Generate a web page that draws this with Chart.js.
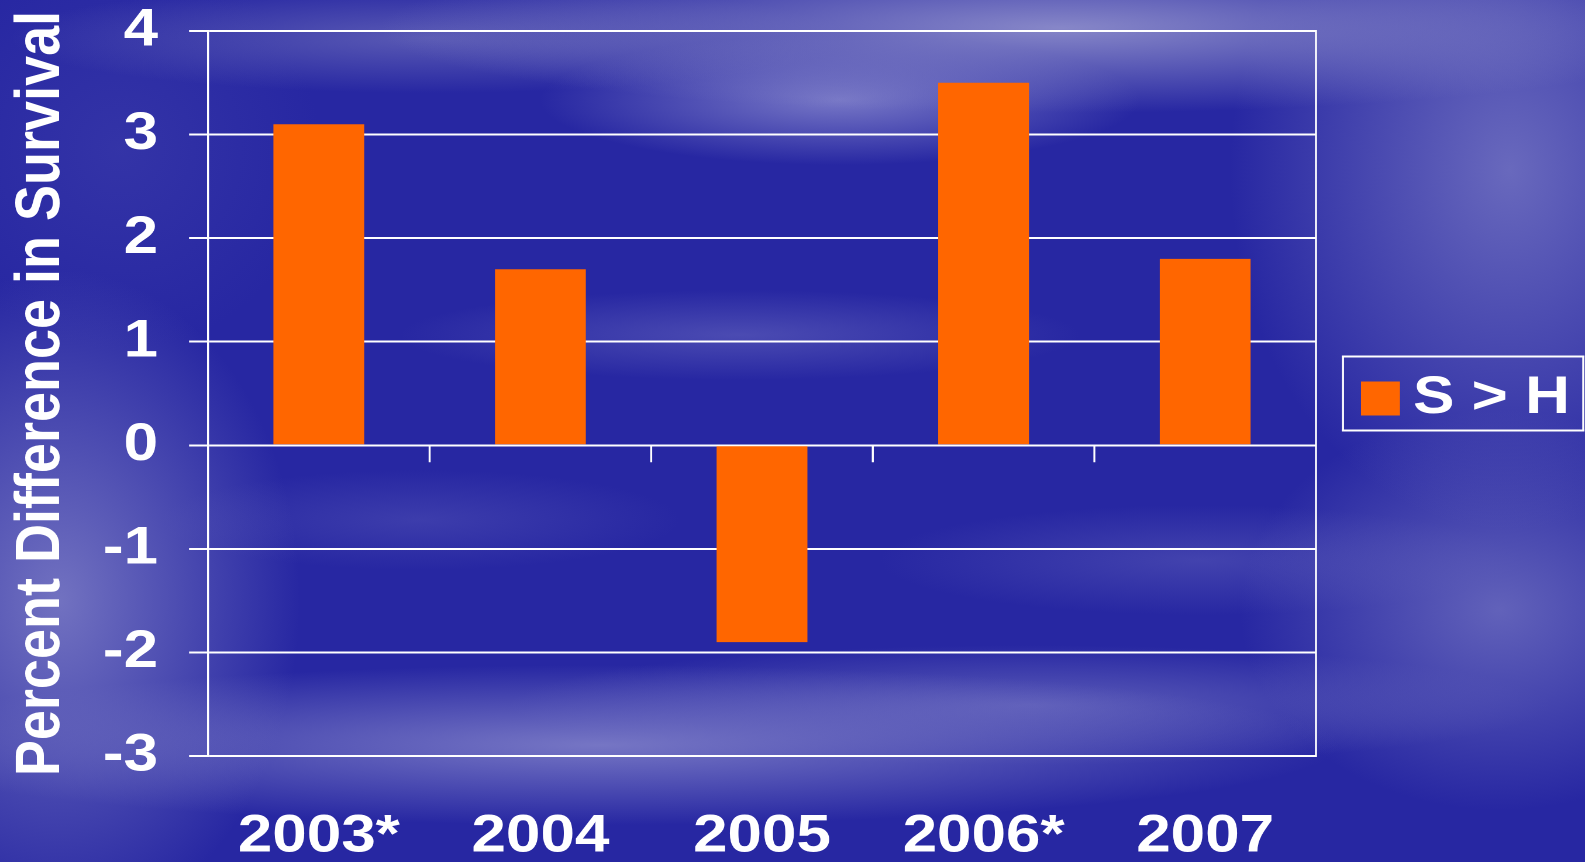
<!DOCTYPE html>
<html>
<head>
<meta charset="utf-8">
<script src="https://cdn.jsdelivr.net/npm/chart.js@4.4.1/dist/chart.umd.min.js"></script>
<style>
  html, body { margin: 0; padding: 0; }
  body {
    width: 1585px; height: 862px; overflow: hidden;
    background-color: #2727a2;
    background-image:
      radial-gradient(ellipse 680px 85px at 1060px 28px, rgba(140,140,202,0.95), rgba(140,140,202,0) 100%),
      radial-gradient(ellipse 420px 55px at 430px 38px, rgba(95,95,182,0.9), rgba(95,95,182,0) 100%),
      radial-gradient(ellipse 300px 65px at 840px 100px, rgba(128,128,202,0.9), rgba(128,128,202,0) 100%),
      radial-gradient(ellipse 280px 360px at 1510px 170px, rgba(112,112,192,0.9), rgba(112,112,192,0) 100%),
      radial-gradient(ellipse 260px 200px at 1500px 610px, rgba(108,108,190,0.85), rgba(108,108,190,0) 100%),
      radial-gradient(ellipse 240px 330px at 60px 600px, rgba(120,120,195,0.92), rgba(120,120,195,0) 100%),
      radial-gradient(ellipse 740px 80px at 600px 745px, rgba(122,122,198,0.95), rgba(122,122,198,0) 100%),
      radial-gradient(ellipse 520px 60px at 1030px 705px, rgba(100,100,188,0.85), rgba(100,100,188,0) 100%),
      radial-gradient(ellipse 340px 45px at 740px 335px, rgba(84,84,182,0.8), rgba(84,84,182,0) 100%),
      radial-gradient(ellipse 320px 55px at 1200px 560px, rgba(76,76,178,0.75), rgba(76,76,178,0) 100%),
      radial-gradient(ellipse 260px 50px at 420px 520px, rgba(70,70,176,0.7), rgba(70,70,176,0) 100%),
      radial-gradient(ellipse 200px 200px at 120px 150px, rgba(60,60,170,0.6), rgba(60,60,170,0) 100%);
  }
  #wrap {
    position: absolute; left: 0; top: 0;
    width: 1355px; height: 862px;
    transform: scaleX(1.169742); transform-origin: 0 0;
  }
</style>
</head>
<body>
<div id="wrap"><canvas id="c"></canvas></div>
<script>
const categories = ['2003*', '2004', '2005', '2006*', '2007'];
const survivalDiff = [3.1, 1.7, -1.9, 3.5, 1.8];
const seriesLabel = 'S > H';
const axisTitle = 'Percent Difference in Survival';
const yMin = -3, yMax = 4, yStep = 1;

const FONT = "'Liberation Sans', Arial, sans-serif";

const framePlugin = {
  id: 'framePlugin',
  afterDatasetsDraw(chart) {
    const { ctx, chartArea: a, scales } = chart;
    const x = scales.x, y = scales.y;
    ctx.save();
    ctx.strokeStyle = '#ffffff';
    ctx.lineWidth = 1.7;
    ctx.beginPath();
    ctx.moveTo(a.right, a.top - 1);
    ctx.lineTo(a.right, a.bottom + 1);
    const y0 = y.getPixelForValue(0);
    for (let i = 0; i < categories.length - 1; i++) {
      const bx = (x.getPixelForValue(i) + x.getPixelForValue(i + 1)) / 2;
      ctx.moveTo(bx, y0);
      ctx.lineTo(bx, y0 + 17);
    }
    ctx.stroke();
    ctx.restore();
  },
  afterDraw(chart) {
    const lg = chart.legend;
    if (!lg || !lg.legendHitBoxes || !lg.legendHitBoxes.length) return;
    const hb = lg.legendHitBoxes[0];
    const { ctx } = chart;
    const fontSize = 53, boxH = 34;
    const boxTop = hb.top + Math.max((fontSize - boxH) / 2, 0);
    const l = hb.left - 15.4, t = boxTop - 25, b = boxTop + boxH + 15;
    const r = chart.width - 1.5;
    ctx.save();
    ctx.strokeStyle = '#ffffff';
    ctx.lineWidth = 2;
    ctx.beginPath();
    ctx.moveTo(l - 1, t); ctx.lineTo(r + 1, t);
    ctx.moveTo(l - 1, b); ctx.lineTo(r + 1, b);
    ctx.stroke();
    ctx.lineWidth = 1.7;
    ctx.beginPath();
    ctx.moveTo(l, t); ctx.lineTo(l, b);
    ctx.moveTo(r, t); ctx.lineTo(r, b);
    ctx.stroke();
    ctx.restore();
  }
};

new Chart(document.getElementById('c'), {
  type: 'bar',
  data: {
    labels: categories,
    datasets: [{
      label: seriesLabel,
      data: survivalDiff,
      backgroundColor: '#ff6600',
      borderWidth: 0,
      barPercentage: 0.41,
      categoryPercentage: 1.0
    }]
  },
  options: {
    responsive: true,
    maintainAspectRatio: false,
    animation: false,
    devicePixelRatio: 2,
    layout: { padding: { left: 0, top: 31, right: 13, bottom: -56 } },
    plugins: {
      tooltip: { enabled: false },
      legend: {
        position: 'right',
        fullSize: false,
        maxWidth: 217,
        title: { display: true, text: '', padding: 0, font: { size: 10, lineHeight: 1 } },
        labels: {
          color: '#ffffff',
          font: { family: FONT, size: 53, weight: 'bold', lineHeight: 1 },
          boxWidth: 33.3,
          boxHeight: 34,
          padding: 38.5,
          textAlign: 'right'
        }
      }
    },
    scales: {
      x: {
        grid: { display: false, drawTicks: false },
        border: { display: false },
        ticks: {
          color: '#ffffff',
          padding: 54.5,
          font: { family: FONT, size: 53, weight: 'bold', lineHeight: 1 },
          maxRotation: 0
        }
      },
      y: {
        min: yMin,
        max: yMax,
        grid: { color: '#ffffff', lineWidth: 2, tickLength: 16.2, drawTicks: true },
        border: { display: true, color: '#ffffff', width: 1.7 },
        ticks: {
          stepSize: yStep,
          color: '#ffffff',
          padding: 26.5,
          font: { family: FONT, size: 53, weight: 'bold', lineHeight: 0.08 }
        },
        title: {
          display: true,
          text: axisTitle,
          color: '#ffffff',
          font: { family: FONT, size: 54, weight: 'bold', lineHeight: 1 },
          padding: { top: 8.5, bottom: -1.0 }
        }
      }
    }
  },
  plugins: [framePlugin]
});
</script>
</body>
</html>
